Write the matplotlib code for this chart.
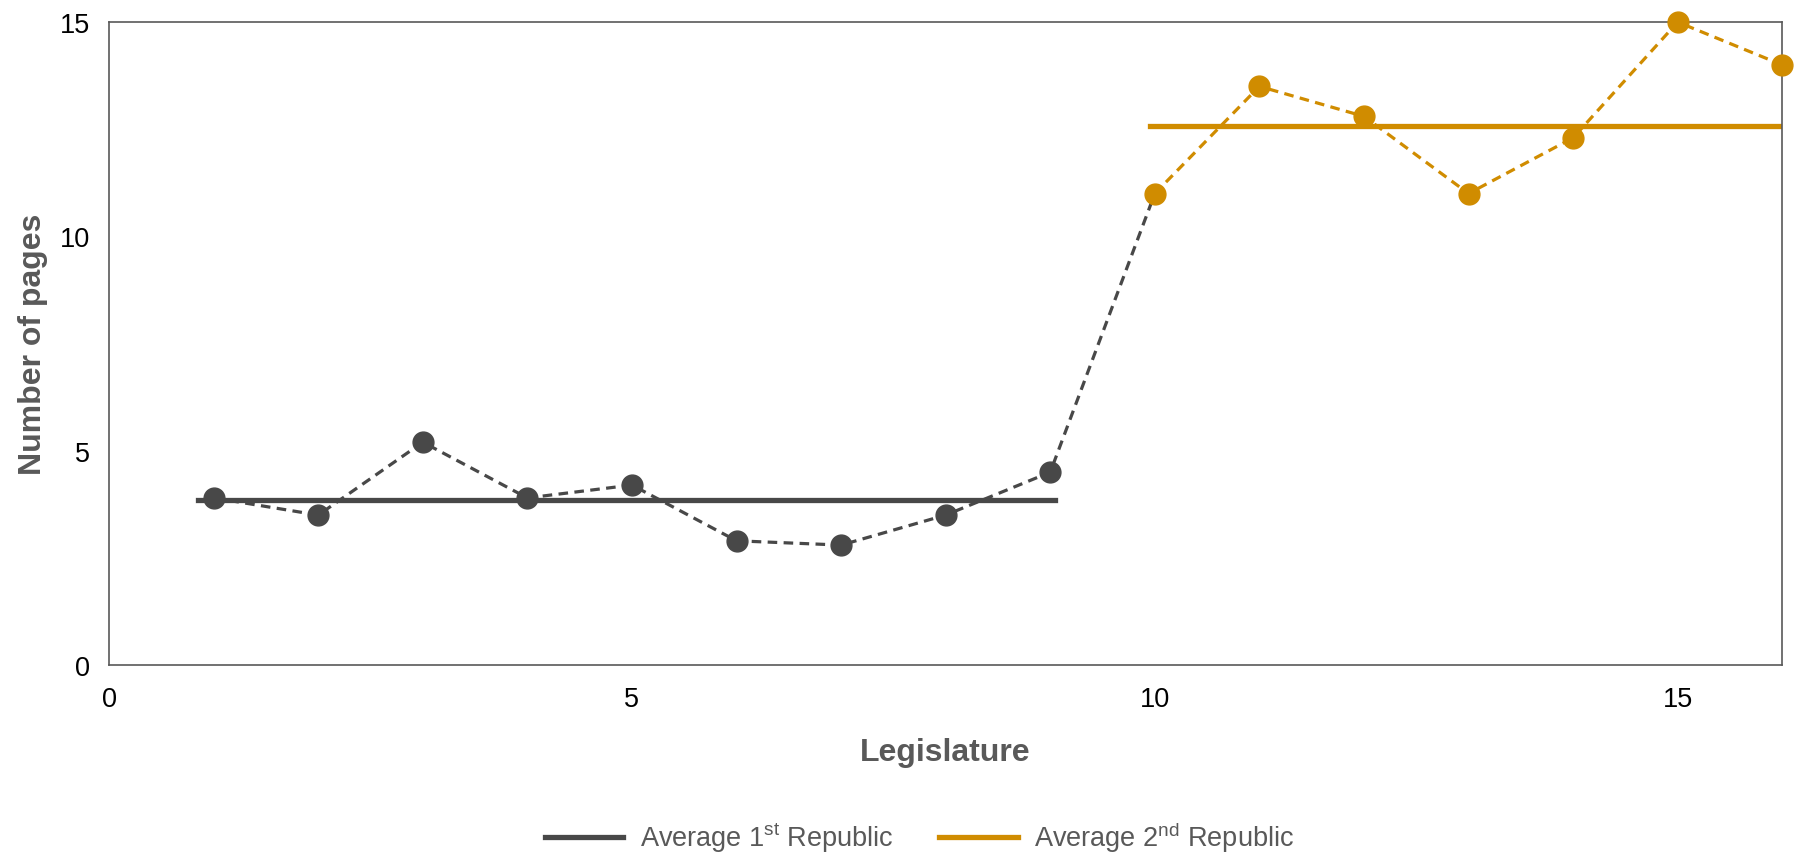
import matplotlib.pyplot as plt

plt.rcParams['font.family'] = ['Liberation Sans', 'DejaVu Sans']
plt.rcParams['mathtext.fontset'] = 'custom'
plt.rcParams['mathtext.rm'] = 'Liberation Sans'

# legislature -> number of pages
leg_first = [1, 2, 3, 4, 5, 6, 7, 8, 9, 10]
pages_first = [3.9, 3.5, 5.2, 3.9, 4.2, 2.9, 2.8, 3.5, 4.5, 11.0]
leg_second = [10, 11, 12, 13, 14, 15, 16]
pages_second = [11.0, 13.5, 12.8, 11.0, 12.3, 15.0, 14.0]

avg_first = 3.85
avg_first_span = [0.85, 9.05]
avg_second = 12.58
avg_second_span = [9.95, 16]

dark = '#484848'
orange = '#D08C00'
gray = '#595959'

fig = plt.figure(figsize=(18.03, 8.54), dpi=100)
ax = fig.add_axes([0.0605, 0.22, 0.928, 0.753])

ax.plot(avg_first_span, [avg_first] * 2, color=dark, lw=3.8,
        label='Average 1$^{\\mathrm{st}}$ Republic')
ax.plot(avg_second_span, [avg_second] * 2, color=orange, lw=3.8,
        label='Average 2$^{\\mathrm{nd}}$ Republic')

ax.plot(leg_first, pages_first, color=dark, ls=(0, (3, 2)), lw=2.3,
        marker='o', ms=15, markevery=list(range(9)), clip_on=False)
ax.plot(leg_second, pages_second, color=orange, ls=(0, (3, 2)), lw=2.3,
        marker='o', ms=15, clip_on=False, zorder=3)

ax.set_xlim(0, 16)
ax.set_ylim(0, 15)
ax.set_xticks([0, 5, 10, 15])
ax.set_yticks([0, 5, 10, 15])
ax.tick_params(length=0, labelsize=19.5, colors='black')
ax.tick_params(axis='x', pad=15)
ax.tick_params(axis='y', pad=14)
for s in ax.spines.values():
    s.set_color(gray)
    s.set_linewidth(1.2)

ax.set_xlabel('Legislature', fontsize=23, fontweight='bold', color=gray, labelpad=18)
ax.set_ylabel('Number of pages', fontsize=23, fontweight='bold', color=gray, labelpad=8)

leg = fig.legend(loc='lower center', bbox_to_anchor=(0.51, -0.03), ncol=2,
                 frameon=False, fontsize=19.5, handlelength=2.9,
                 handletextpad=0.6, columnspacing=1.7)
for t in leg.get_texts():
    t.set_color(gray)

fig.savefig('out.png', dpi=100)
